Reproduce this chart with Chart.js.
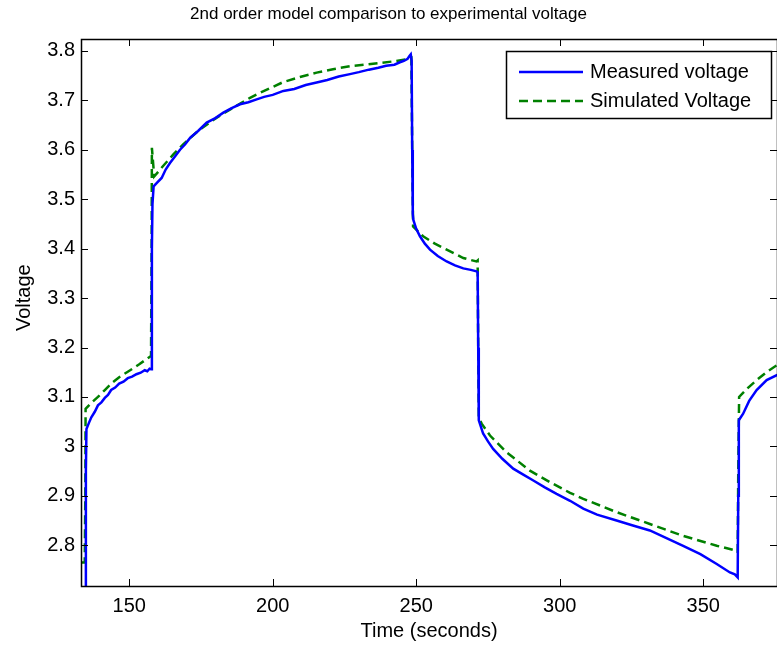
<!DOCTYPE html>
<html>
<head>
<meta charset="utf-8">
<script src="https://cdn.jsdelivr.net/npm/chart.js@4.4.1/dist/chart.umd.min.js"></script>
<style>
    html, body { margin: 0; padding: 0; background: #fff; }
    #wrap { width: 777px; height: 649px; }
</style>
</head>
<body>
<div id="wrap"><canvas id="voltageChart"></canvas></div>
<script>
// Measured voltage (blue, solid)
const measuredTime = [134.7, 134.9, 135.1, 136.0, 136.8, 138.0, 139.1, 140.3, 141.5, 142.6, 143.7, 145.1, 146.5, 148.0, 149.5, 151.0, 152.5, 154.0, 155.4, 156.3, 157.1, 157.6,
    157.9, 158.1, 158.5, 159.8, 161.3, 162.7, 164.2, 166.0, 167.7, 169.5, 171.2, 174.0, 177.0, 180.0, 182.8, 185.7, 188.6, 191.5, 194.4, 197.0, 200.0, 203.7, 207.5, 211.5,
    215.3, 219.0, 223.0, 226.9, 230.0, 233.5, 236.8, 239.5, 242.4, 244.3, 245.7, 247.0, 247.7, 248.1, 248.4,
    248.6, 248.8, 249.0, 250.0, 251.3, 253.0, 254.8, 257.5, 260.6, 263.5, 266.4, 269.0, 271.0, 271.4,
    271.6, 271.8, 273.3, 275.0, 276.8, 280.0, 283.8, 287.3, 290.8, 294.8, 298.9, 303.6, 308.2, 313.0, 319.8, 325.5, 331.4, 337.0, 343.0, 349.0, 354.7, 359.3, 361.0, 362.0,
    362.2, 362.4, 363.9, 366.0, 368.6, 372.1, 375.6, 376.5];
const measuredVolt = [2.60, 2.95, 3.035, 3.048, 3.059, 3.070, 3.083, 3.089, 3.098, 3.104, 3.114, 3.119, 3.127, 3.131, 3.138, 3.141, 3.146, 3.149, 3.154, 3.152, 3.157, 3.156,
    3.40, 3.49, 3.526, 3.534, 3.543, 3.560, 3.573, 3.587, 3.600, 3.611, 3.624, 3.638, 3.655, 3.664, 3.675, 3.684, 3.692, 3.696, 3.702, 3.707, 3.711, 3.719, 3.723, 3.731,
    3.736, 3.741, 3.748, 3.753, 3.757, 3.762, 3.766, 3.770, 3.772, 3.777, 3.780, 3.784, 3.790, 3.793, 3.78,
    3.60, 3.47, 3.458, 3.440, 3.425, 3.410, 3.398, 3.385, 3.374, 3.366, 3.360, 3.357, 3.354, 3.352,
    3.20, 3.053, 3.026, 3.010, 2.995, 2.975, 2.955, 2.943, 2.931, 2.917, 2.904, 2.890, 2.874, 2.862, 2.850, 2.840, 2.830, 2.815, 2.799, 2.782, 2.762, 2.745, 2.741, 2.735,
    2.90, 3.053, 3.066, 3.092, 3.114, 3.134, 3.144, 3.146];

// Simulated voltage (green, dashed)
const simTime = [133.2, 134.5, 134.7, 134.8, 136.8, 139.1, 141.5, 143.7, 146.5, 149.5, 153.5, 157.1, 157.6,
    157.8, 157.9, 158.3, 158.7, 161.8, 165.3, 168.8, 174.6, 180.5, 186.2, 192.1, 195.5, 203.7, 209.5, 215.3, 221.0, 226.9, 232.0, 236.8, 242.4, 247.5, 248.3,
    248.6, 248.9, 252.4, 256.5, 260.6, 266.4, 271.0, 271.4,
    271.6, 271.8, 272.8, 275.7, 281.5, 289.6, 296.5, 303.6, 308.2, 319.8, 331.4, 343.0, 354.7, 361.6, 362.0,
    362.2, 362.5, 365.5, 368.6, 372.0, 375.6, 376.5];
const simVolt = [2.765, 2.765, 2.90, 3.076, 3.088, 3.100, 3.114, 3.127, 3.140, 3.151, 3.166, 3.181, 3.183,
    3.40, 3.604, 3.575, 3.546, 3.567, 3.590, 3.611, 3.641, 3.665, 3.685, 3.705, 3.715, 3.737, 3.747, 3.756, 3.763, 3.769, 3.772, 3.775, 3.779, 3.784, 3.786,
    3.60, 3.445, 3.425, 3.410, 3.398, 3.381, 3.374, 3.376,
    3.20, 3.058, 3.046, 3.022, 2.988, 2.951, 2.928, 2.906, 2.894, 2.867, 2.843, 2.819, 2.799, 2.789, 2.786,
    2.95, 3.100, 3.118, 3.134, 3.150, 3.164, 3.166];

const xTicks = [150, 200, 250, 300, 350];
const xTickLabels = ['150', '200', '250', '300', '350'];
const yTicks = [2.8, 2.9, 3.0, 3.1, 3.2, 3.3, 3.4, 3.5, 3.6, 3.7, 3.8];
const yTickLabels = ['2.8', '2.9', '3', '3.1', '3.2', '3.3', '3.4', '3.5', '3.6', '3.7', '3.8'];
const yAxisTitle = 'Voltage';

const FONT = 'Liberation Sans, Arial, Helvetica, sans-serif';

// MATLAB style box with inward ticks on all four sides, plus the y label
const matlabAxes = {
    id: 'matlabAxes',
    afterDatasetsDraw(chart) {
        const { ctx, chartArea: a, scales: { x, y } } = chart;
        const len = 7;
        ctx.save();
        ctx.strokeStyle = '#000';
        ctx.lineWidth = 1;
        ctx.beginPath();
        xTicks.forEach(v => {
            const px = Math.round(x.getPixelForValue(v)) + 0.5;
            ctx.moveTo(px, a.bottom); ctx.lineTo(px, a.bottom - len);
            ctx.moveTo(px, a.top); ctx.lineTo(px, a.top + len);
        });
        yTicks.forEach(v => {
            const py = Math.round(y.getPixelForValue(v)) + 0.5;
            ctx.moveTo(a.left, py); ctx.lineTo(a.left + len, py);
            ctx.moveTo(a.right, py); ctx.lineTo(a.right - len, py);
        });
        ctx.stroke();
        ctx.lineWidth = 1.5;
        ctx.strokeRect(Math.round(a.left) + 0.5, Math.round(a.top) + 0.5, a.right - a.left, a.bottom - a.top);

        // y axis label, sitting a little above the middle like the original
        ctx.translate(24, a.top + (a.bottom - a.top) * 0.473);
        ctx.rotate(-Math.PI / 2);
        ctx.font = '20px ' + FONT;
        ctx.fillStyle = '#000';
        ctx.textAlign = 'center';
        ctx.textBaseline = 'middle';
        ctx.fillText(yAxisTitle, 0, 0);
        ctx.restore();
    }
};

// boxed legend in the upper right corner of the axes
const boxLegend = {
    id: 'boxLegend',
    afterDraw(chart) {
        const { ctx, chartArea: a } = chart;
        const w = 265, h = 67;
        const left = a.right - 6 - w, top = a.top + 12;
        ctx.save();
        ctx.fillStyle = '#fff';
        ctx.fillRect(left, top, w, h);
        ctx.strokeStyle = '#000';
        ctx.lineWidth = 1.5;
        ctx.strokeRect(left + 0.5, top + 0.5, w, h);
        ctx.font = '20px ' + FONT;
        ctx.textBaseline = 'middle';
        ctx.fillStyle = '#000';
        chart.data.datasets.forEach((ds, i) => {
            const cy = top + 21 + i * 29;
            ctx.strokeStyle = ds.borderColor;
            ctx.lineWidth = ds.borderWidth;
            ctx.setLineDash(ds.borderDash || []);
            ctx.beginPath();
            ctx.moveTo(left + 13, cy);
            ctx.lineTo(left + 77, cy);
            ctx.stroke();
            ctx.setLineDash([]);
            ctx.fillText(ds.label, left + 84, cy);
        });
        ctx.restore();
    }
};

const voltageChart = new Chart(document.getElementById('voltageChart'), {
    type: 'line',
    data: {
        datasets: [{
            label: 'Measured voltage',
            data: measuredTime.map((t, i) => ({ x: t, y: measuredVolt[i] })),
            borderColor: '#0000ff',
            borderWidth: 2.5,
            pointRadius: 0,
            tension: 0
        }, {
            label: 'Simulated Voltage',
            data: simTime.map((t, i) => ({ x: t, y: simVolt[i] })),
            borderColor: '#008000',
            borderWidth: 2.5,
            borderDash: [9, 5],
            pointRadius: 0,
            tension: 0
        }]
    },
    options: {
        responsive: true,
        maintainAspectRatio: false,
        animation: false,
        devicePixelRatio: 1,
        layout: { padding: 0 },
        scales: {
            x: {
                type: 'linear',
                min: 133.2,
                max: 375.7,
                afterBuildTicks: s => { s.ticks = xTicks.map(v => ({ value: v })); },
                afterFit: s => { s.height = 63; },
                grid: { display: false, drawTicks: false },
                border: { display: false },
                ticks: {
                    color: '#000',
                    font: { family: FONT, size: 20 },
                    padding: 8,
                    maxRotation: 0,
                    autoSkip: false,
                    callback: (v, i) => xTickLabels[i]
                },
                title: {
                    display: true,
                    text: 'Time (seconds)',
                    color: '#000',
                    font: { family: FONT, size: 20 },
                    padding: { top: 0, bottom: 6 }
                }
            },
            y: {
                min: 2.7176,
                max: 3.824,
                afterBuildTicks: s => { s.ticks = yTicks.map(v => ({ value: v })); },
                afterFit: s => { s.width = 81; },
                grid: { display: false, drawTicks: false },
                border: { display: false },
                ticks: {
                    color: '#000',
                    font: { family: FONT, size: 20 },
                    padding: 6,
                    autoSkip: false,
                    callback: (v, i) => yTickLabels[i]
                }
            }
        },
        plugins: {
            legend: { display: false },
            tooltip: { enabled: false },
            title: {
                display: true,
                text: '2nd order model comparison to experimental voltage',
                color: '#000',
                font: { family: FONT, size: 17, weight: 'normal' },
                padding: { top: 4, bottom: 14.6 }
            }
        }
    },
    plugins: [matlabAxes, boxLegend]
});
</script>
</body>
</html>
